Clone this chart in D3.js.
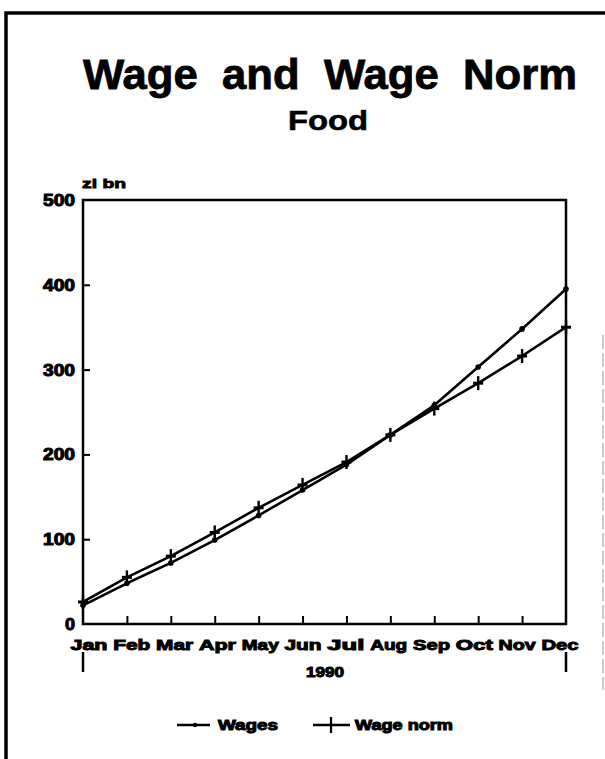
<!DOCTYPE html>
<html><head><meta charset="utf-8">
<script src="https://cdn.jsdelivr.net/npm/d3@7"></script>
<style>body{margin:0;background:#fff}svg{display:block}text{font-family:"Liberation Sans",Arial,sans-serif;font-weight:bold;fill:#000;white-space:pre}</style>
</head><body>
<script>
const months = ["Jan","Feb","Mar","Apr","May","Jun","Jul","Aug","Sep","Oct","Nov","Dec"];
const wages = [22, 48, 72, 99, 128, 158, 188, 223, 258, 303, 348, 395];
const wageNorm = [26, 55, 80, 108, 137, 164, 191, 223, 254, 284, 316, 350];
const yTicks = [0, 100, 200, 300, 400, 500];
const seriesNames = ["Wages", "Wage norm"];

const W = 605, H = 759;
const svg = d3.select("body").append("svg").attr("width", W).attr("height", H);
const m = {l: 83, r: 566, t: 200, b: 624};

// outer frame
svg.append("path").attr("d", `M6,${H} V13 H${W}`).attr("fill","none").attr("stroke","#000").attr("stroke-width",3.5);
// faint scan edge at right
svg.append("line").attr("x1",603).attr("x2",603).attr("y1",335).attr("y2",690)
  .attr("stroke","#bbb").attr("stroke-width",1.5).attr("stroke-dasharray","14,4");

const x = d3.scalePoint().domain(months).range([m.l, m.r]);
const y = d3.scaleLinear().domain([0, 500]).range([m.b, m.t]);

// title
svg.append("text").attr("x", 330).attr("y", 89).attr("text-anchor","middle")
  .attr("font-size", 42).attr("stroke","#000").attr("stroke-width",0.8)
  .attr("textLength", 494).attr("lengthAdjust","spacingAndGlyphs")
  .text("Wage  and  Wage  Norm");
svg.append("text").attr("x", 328).attr("y", 130).attr("text-anchor","middle")
  .attr("font-size", 28).attr("stroke","#000").attr("stroke-width",0.6)
  .attr("textLength", 80).attr("lengthAdjust","spacingAndGlyphs").text("Food");

// plot frame
svg.append("rect").attr("x", m.l).attr("y", m.t).attr("width", m.r - m.l).attr("height", m.b - m.t)
  .attr("fill","none").attr("stroke","#000").attr("stroke-width",2.5);

// y axis ticks (inward) and labels
const yAxis = d3.axisRight(y).tickValues(yTicks).tickSize(7).tickFormat("");
const gy = svg.append("g").attr("transform", `translate(${m.l},0)`).call(yAxis);
gy.select(".domain").remove();
gy.selectAll(".tick line").attr("stroke-width", 2).filter(d => d === 0 || d === 500).remove();
svg.append("g").selectAll("text").data(yTicks).join("text")
  .attr("x", 75).attr("y", d => y(d) + 6).attr("text-anchor","end")
  .attr("font-size", 16).attr("stroke","#000").attr("stroke-width",1)
  .attr("textLength", d => d === 0 ? 10 : 32).attr("lengthAdjust","spacingAndGlyphs")
  .text(d => d);
svg.append("text").attr("x", 82).attr("y", 188).attr("font-size", 13)
  .attr("stroke","#000").attr("stroke-width",0.8).attr("textLength", 44).attr("lengthAdjust","spacingAndGlyphs").text("zl bn");

// x axis ticks (inward)
const xAxis = d3.axisTop(x).tickSize(8).tickFormat("");
const gx = svg.append("g").attr("transform", `translate(0,${m.b})`).call(xAxis);
gx.select(".domain").remove();
gx.selectAll(".tick line").attr("stroke-width", 2).filter(d => d === "Jan" || d === "Dec").remove();
// long end ticks below labels
svg.append("g").selectAll("line").data([months[0], months[months.length-1]]).join("line")
  .attr("x1", d => x(d)).attr("x2", d => x(d)).attr("y1", 652).attr("y2", 672)
  .attr("stroke","#000").attr("stroke-width",2.5);
svg.append("g").selectAll("text").data(months).join("text")
  .attr("x", (d,i) => x(d) + 6 - i * 1.1).attr("y", 650).attr("text-anchor","middle")
  .attr("font-size", 15).attr("stroke","#000").attr("stroke-width",1)
  .attr("textLength", 37).attr("lengthAdjust","spacingAndGlyphs").text(d => d);
svg.append("text").attr("x", 325).attr("y", 677).attr("text-anchor","middle")
  .attr("font-size", 14).attr("stroke","#000").attr("stroke-width",1)
  .attr("textLength", 38).attr("lengthAdjust","spacingAndGlyphs").text("1990");

// lines
const line = d3.line().x((d,i) => x(months[i])).y(d => y(d));
[wages, wageNorm].forEach(s => {
  svg.append("path").datum(s).attr("d", line).attr("fill","none")
    .attr("stroke","#000").attr("stroke-width",2.6).attr("stroke-linejoin","round");
});
// markers
svg.append("g").selectAll("circle").data(wages).join("circle")
  .attr("cx", (d,i) => x(months[i])).attr("cy", d => y(d)).attr("r", 2.8).attr("fill","#000");
const plus = svg.append("g").selectAll("g").data(wageNorm).join("g")
  .attr("transform", (d,i) => `translate(${x(months[i])},${y(d)})`);
plus.append("line").attr("y1",-7).attr("y2",7).attr("stroke","#000").attr("stroke-width",2.4);
plus.append("line").attr("x1",-5).attr("x2",5).attr("stroke","#000").attr("stroke-width",3);

// legend
const lg = svg.append("g");
lg.append("line").attr("x1",177).attr("x2",210).attr("y1",725).attr("y2",725).attr("stroke","#000").attr("stroke-width",2.6);
lg.append("circle").attr("cx",195).attr("cy",725).attr("r",2.2);
lg.append("text").attr("x",218).attr("y",730).attr("font-size",14).attr("stroke","#000").attr("stroke-width",1)
  .attr("textLength",60).attr("lengthAdjust","spacingAndGlyphs").text(seriesNames[0]);
lg.append("line").attr("x1",313).attr("x2",350).attr("y1",725).attr("y2",725).attr("stroke","#000").attr("stroke-width",2.6);
lg.append("line").attr("x1",331).attr("x2",331).attr("y1",717).attr("y2",733).attr("stroke","#000").attr("stroke-width",2.2);
lg.append("text").attr("x",355).attr("y",730).attr("font-size",14).attr("stroke","#000").attr("stroke-width",1)
  .attr("textLength",98).attr("lengthAdjust","spacingAndGlyphs").text(seriesNames[1]);
</script>
</body></html>
